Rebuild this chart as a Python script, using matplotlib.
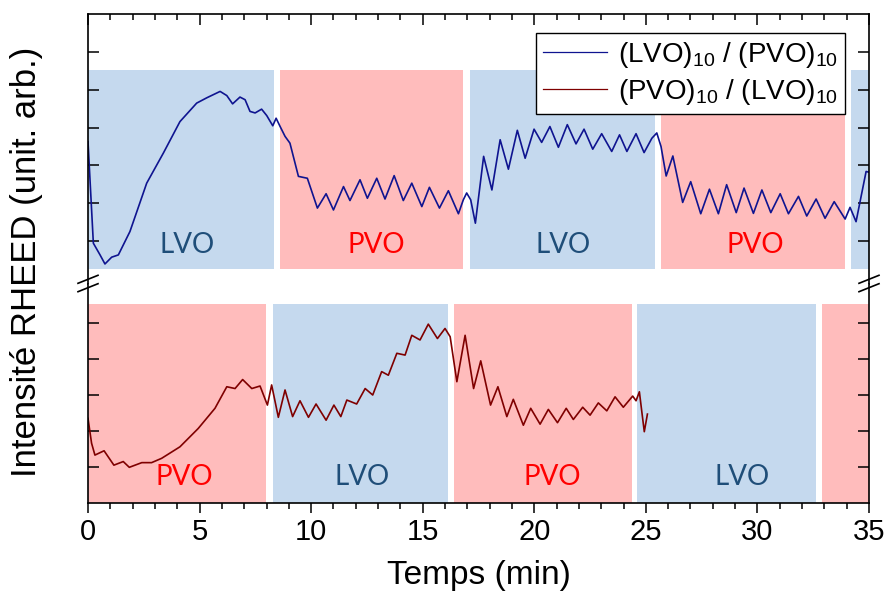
import matplotlib
matplotlib.use('Agg')
import matplotlib.pyplot as plt
from matplotlib.lines import Line2D

plt.rcParams['font.family'] = ['Liberation Sans', 'DejaVu Sans']
plt.rcParams['mathtext.fontset'] = 'custom'
plt.rcParams['mathtext.rm'] = 'Liberation Sans'

# (LVO)10 / (PVO)10 trace, upper panel (time in min, intensity arb.)
t_lvo_pvo = [0, 0.24, 0.54, 0.76, 1.06, 1.36, 1.88, 2.63, 3.38, 4.12, 4.87, 5.32, 5.92, 6.22,
             6.48, 6.81, 7.04, 7.26, 7.49, 7.78, 8.01, 8.28, 8.43, 8.61, 8.83, 9.05, 9.43, 9.83,
             10.28, 10.67, 11.0, 11.45, 11.74, 12.19, 12.52, 12.94, 13.31, 13.72, 14.13, 14.51,
             14.96, 15.30, 15.75, 16.15, 16.60, 16.82, 16.97, 17.15, 17.36, 17.73, 18.10, 18.47,
             18.84, 19.24, 19.59, 19.99, 20.33, 20.70, 21.08, 21.48, 21.87, 22.23, 22.62, 23.02,
             23.47, 23.82, 24.15, 24.56, 24.92, 25.27, 25.49, 25.68, 25.91, 26.21, 26.65, 27.01,
             27.46, 27.85, 28.25, 28.62, 29.05, 29.40, 29.82, 30.20, 30.60, 31.02, 31.39, 31.84,
             32.21, 32.63, 33.03, 33.44, 33.93, 34.15, 34.42, 34.87, 35.0]
i_lvo_pvo = [3.63, 0.94, 0.63, 0.39, 0.57, 0.63, 1.25, 2.53, 3.33, 4.16, 4.65, 4.79, 4.96, 4.85,
             4.63, 4.81, 4.74, 4.43, 4.39, 4.49, 4.32, 4.05, 4.25, 4.03, 3.77, 3.59, 2.71, 2.66,
             1.87, 2.25, 1.82, 2.44, 2.07, 2.62, 2.13, 2.66, 2.11, 2.73, 2.07, 2.53,
             1.91, 2.42, 1.87, 2.33, 1.72, 2.09, 2.27, 2.09, 1.47, 3.24, 2.35, 3.68,
             2.90, 3.93, 3.19, 3.96, 3.61, 4.03, 3.48, 4.08, 3.57, 3.96, 3.43, 3.84,
             3.37, 3.81, 3.37, 3.84, 3.34, 3.72, 3.86, 3.50, 2.72, 3.25, 2.02, 2.57,
             1.72, 2.37, 1.72, 2.49, 1.75, 2.40, 1.73, 2.35, 1.75, 2.25, 1.72, 2.18,
             1.66, 2.11, 1.60, 2.04, 1.58, 1.89, 1.51, 2.84, 2.82]

# (PVO)10 / (LVO)10 trace, lower panel
t_pvo_lvo = [0, 0.16, 0.31, 0.72, 1.16, 1.58, 1.85, 2.41, 2.85, 3.30, 4.12, 4.94, 5.69, 6.22,
             6.59, 6.93, 7.34, 7.71, 8.04, 8.23, 8.53, 8.83, 9.17, 9.50, 9.88, 10.22, 10.67,
             11.02, 11.33, 11.60, 12.04, 12.42, 12.76, 13.16, 13.46, 13.84, 14.21, 14.51, 14.88,
             15.25, 15.66, 16.00, 16.23, 16.53, 16.90, 17.28, 17.60, 18.04, 18.37, 18.77, 19.06,
             19.51, 19.84, 20.26, 20.63, 21.04, 21.43, 21.75, 22.17, 22.50, 22.87, 23.25, 23.62,
             23.99, 24.41, 24.56, 24.71, 24.82, 24.93, 25.07]
i_pvo_lvo = [2.36, 1.67, 1.34, 1.46, 1.06, 1.16, 1.0, 1.13, 1.13, 1.25, 1.57, 2.08, 2.64, 3.24,
             3.19, 3.44, 3.19, 3.26, 2.73, 3.29, 2.39, 3.15, 2.41, 2.85, 2.39, 2.76, 2.31,
             2.73, 2.41, 2.87, 2.76, 3.19, 3.01, 3.66, 3.56, 4.17, 4.12, 4.67, 4.54,
             4.98, 4.58, 4.86, 4.63, 3.38, 4.67, 3.19, 3.96, 2.73, 3.24, 2.41, 2.89,
             2.17, 2.64, 2.20, 2.61, 2.24, 2.64, 2.33, 2.67, 2.45, 2.79, 2.57, 2.96,
             2.67, 2.98, 2.85, 3.10, 2.54, 1.99, 2.48]

# growth windows (min)
top_starts = [0, 8.6, 17.12, 25.68, 34.19]
top_ends = [8.35, 16.82, 25.43, 33.93, 35]
top_layers = ['LVO', 'PVO', 'LVO', 'PVO', 'LVO']
top_label_x = [4.45, 12.9, 21.3, 29.9]

bot_starts = [0, 8.28, 16.38, 24.62, 32.88]
bot_ends = [7.96, 16.12, 24.37, 32.63, 35]
bot_layers = ['PVO', 'LVO', 'PVO', 'LVO', 'PVO']
bot_label_x = [4.3, 12.3, 20.8, 29.3]

fill = {'LVO': '#c5d9ee', 'PVO': '#ffbcbc'}
txt_col = {'LVO': '#1f4e79', 'PVO': '#ff0000'}

fig = plt.figure(figsize=(8.84, 5.98), dpi=100)
W, H = 884, 598
x0, x1 = 88, 869
y_top, y_brk, y_bot = 14, 283.5, 503
ax_t = fig.add_axes([x0 / W, 1 - y_brk / H, (x1 - x0) / W, (y_brk - y_top) / H])
ax_b = fig.add_axes([x0 / W, 1 - y_bot / H, (x1 - x0) / W, (y_bot - y_brk) / H])

for s, e, lay in zip(top_starts, top_ends, top_layers):
    ax_t.fill_between([s, e], 0.26, 5.52, color=fill[lay], lw=0, zorder=0)
for s, e, lay in zip(bot_starts, bot_ends, bot_layers):
    ax_b.fill_between([s, e], 0, 5.54, color=fill[lay], lw=0, zorder=0)

for xl, lay in zip(top_label_x, top_layers):
    ax_t.text(xl, 0.69, lay, color=txt_col[lay], fontsize=20, family='Lato',
              ha='center', va='baseline', zorder=1)
for xl, lay in zip(bot_label_x, bot_layers):
    ax_b.text(xl, 0.51, lay, color=txt_col[lay], fontsize=20, family='Lato',
              ha='center', va='baseline', zorder=1)

ax_t.plot(t_lvo_pvo, i_lvo_pvo, color='#0f1490', lw=1.2, zorder=2)
ax_b.plot(t_pvo_lvo, i_pvo_lvo, color='#7f0000', lw=1.2, zorder=2)

ax_t.set_ylim(-0.127, 7.01)
ax_b.set_ylim(0.008, 6.11)
for ax in (ax_t, ax_b):
    ax.set_xlim(0, 35)
    ax.set_yticks([1, 2, 3, 4, 5, 6] if ax is ax_t else [1, 2, 3, 4, 5])
    ax.tick_params(axis='y', which='major', direction='in', length=8, width=1.1,
                   left=True, right=True, labelleft=False)
    for sp in ax.spines.values():
        sp.set_linewidth(1.2)

ax_t.spines['bottom'].set_visible(False)
ax_b.spines['top'].set_visible(False)

ax_t.set_xticks(range(0, 36, 5))
ax_t.set_xticks(range(0, 36), minor=True)
ax_t.tick_params(axis='x', which='both', direction='in', top=True, bottom=False,
                 labelbottom=False, width=1.1)
ax_t.tick_params(axis='x', which='major', length=8)
ax_t.tick_params(axis='x', which='minor', length=4.5)

ax_b.set_xticks(range(0, 36, 5))
ax_b.set_xticks(range(0, 36), minor=True)
ax_b.tick_params(axis='x', which='both', direction='out', top=False, width=1.1,
                 labelsize=21, pad=4)
ax_b.tick_params(axis='x', which='major', length=7)
ax_b.tick_params(axis='x', which='minor', length=4)
ax_b.set_xlabel('Temps (min)', fontsize=24, labelpad=10)

fig.text(0.03, 1 - 262 / H, 'Intensité RHEED (unit. arb.)', rotation=90,
         fontsize=25, ha='center', va='center')

# break marks on both y spines
for xp in (x0, x1):
    for dy in (-4.2, 4.2):
        fig.add_artist(Line2D([(xp - 10) / W, (xp + 10) / W],
                              [1 - (y_brk + dy + 4) / H, 1 - (y_brk + dy - 4) / H],
                              color='black', lw=1.2))

handles = [Line2D([], [], color='#0f1490', lw=0.9), Line2D([], [], color='#7f0000', lw=0.9)]
leg = ax_t.legend(handles, [r'(LVO)$_{\mathrm{10}}$ / (PVO)$_{\mathrm{10}}$',
                            r'(PVO)$_{\mathrm{10}}$ / (LVO)$_{\mathrm{10}}$'],
                  loc='upper right', bbox_to_anchor=(0.969, 0.9295), borderaxespad=0,
                  fontsize=20, frameon=True, fancybox=False, framealpha=1,
                  edgecolor='black', handlelength=2.3, handletextpad=0.4,
                  labelspacing=0.25, borderpad=0.25)
leg.get_frame().set_linewidth(1.0)
leg.set_zorder(5)

fig.savefig('out.png', dpi=100)
